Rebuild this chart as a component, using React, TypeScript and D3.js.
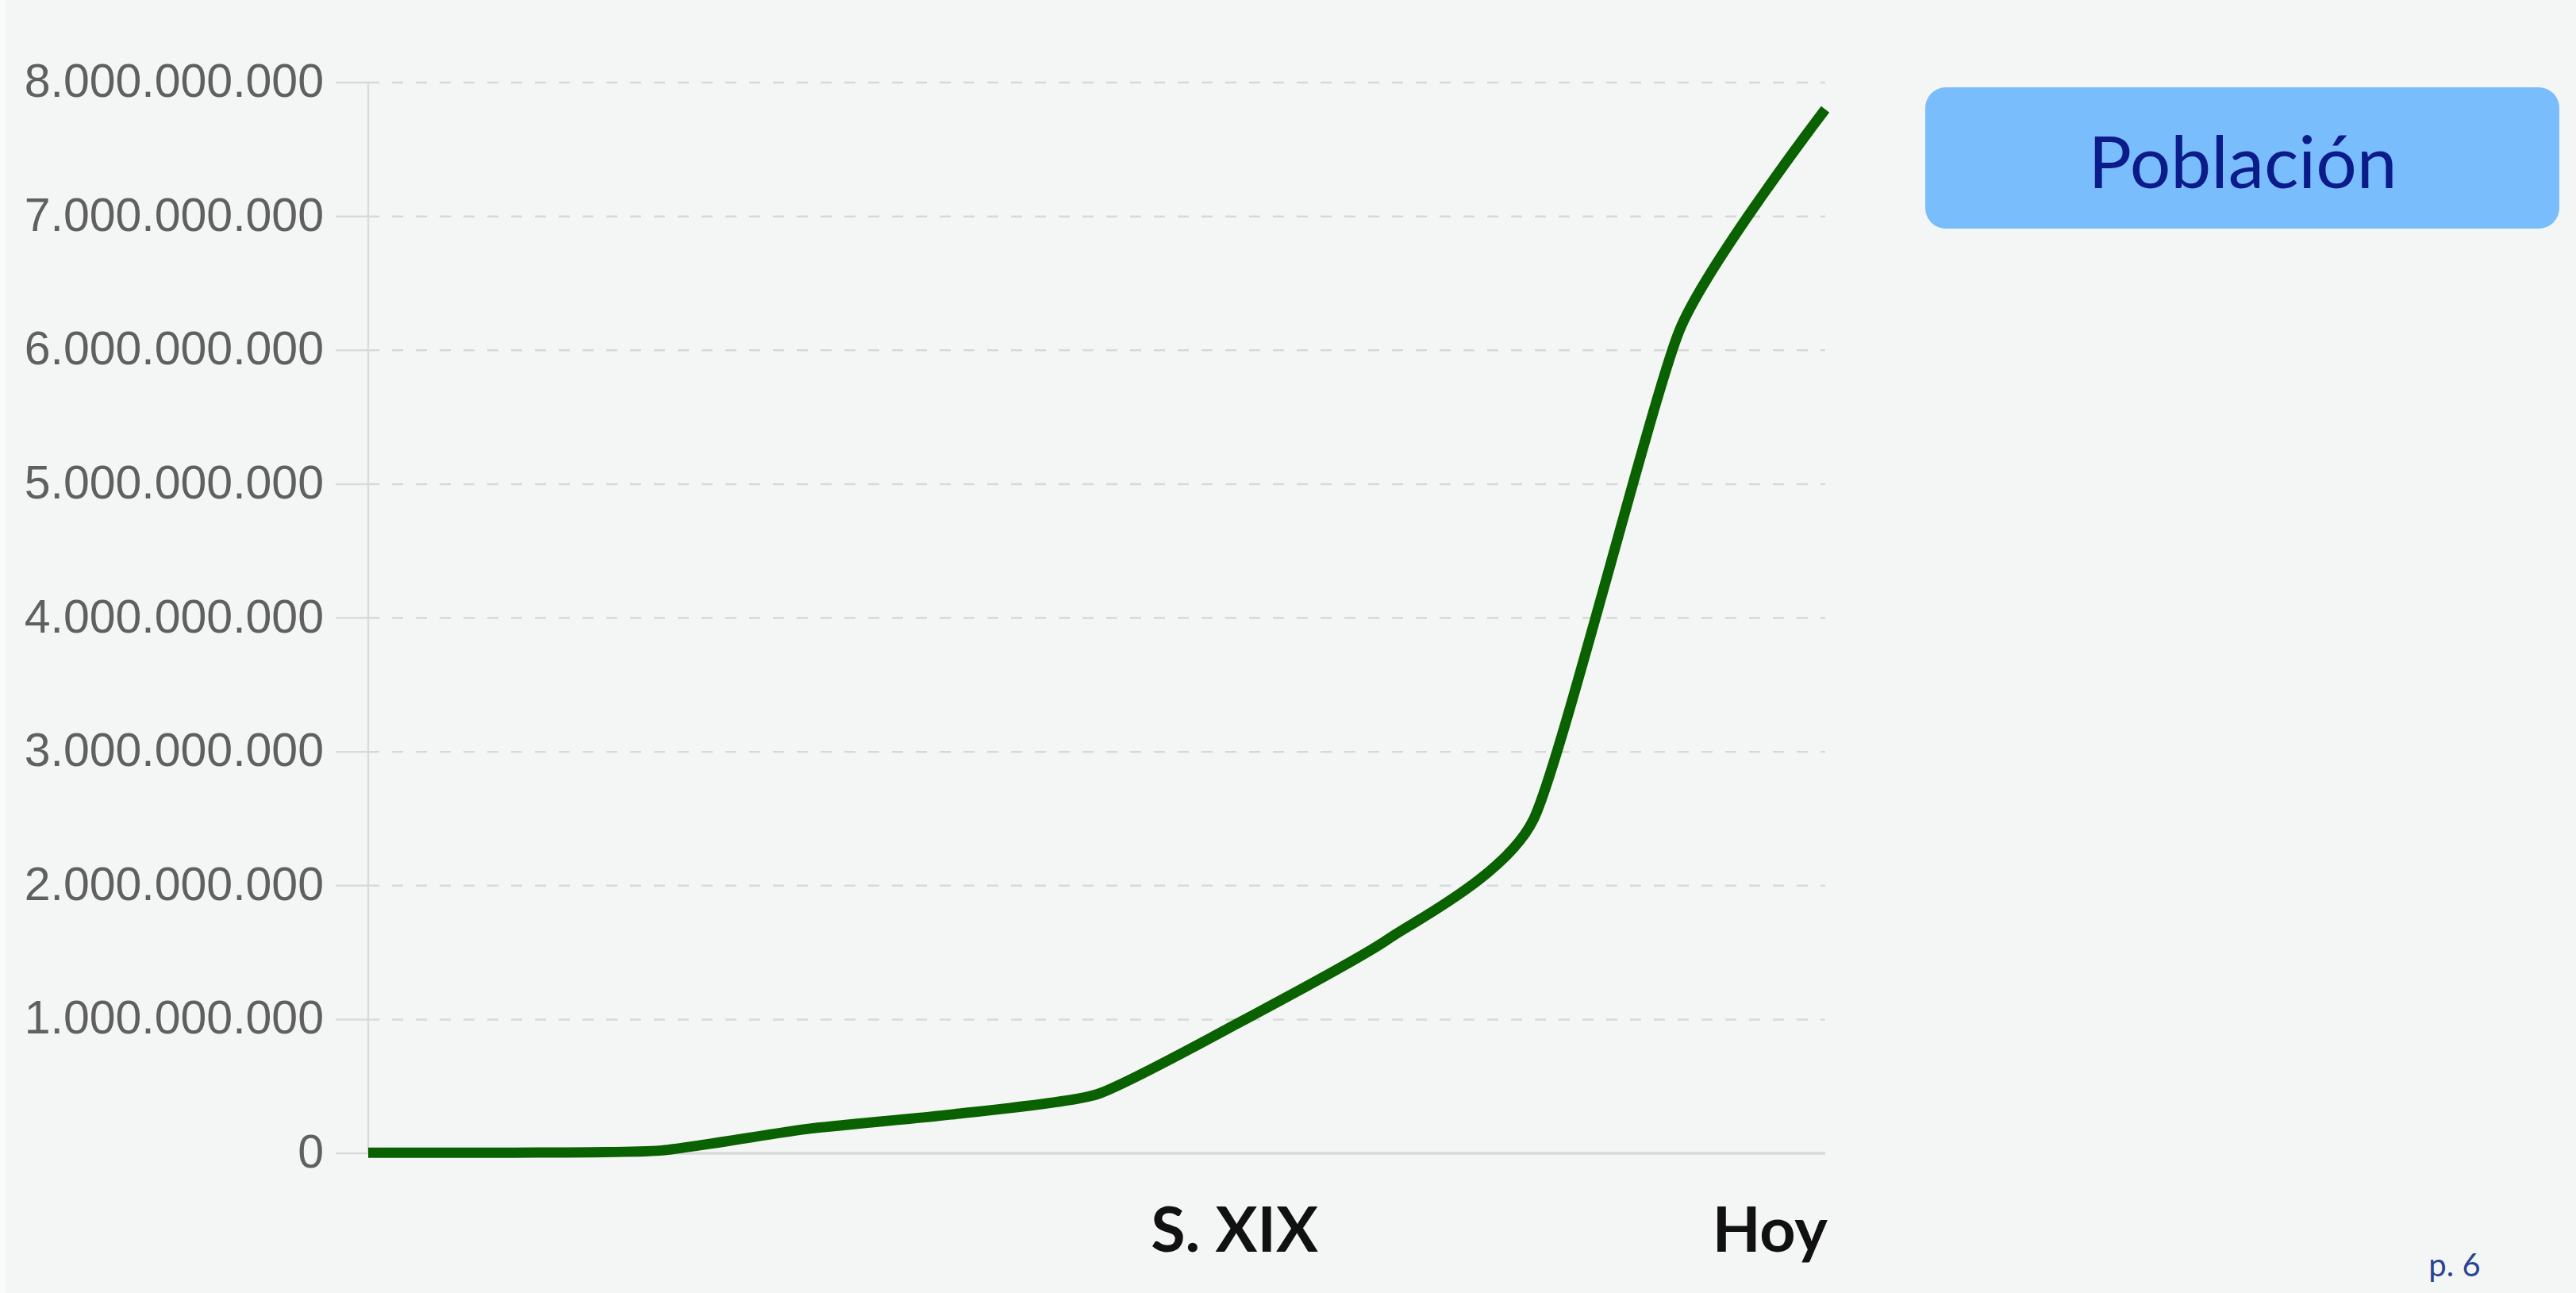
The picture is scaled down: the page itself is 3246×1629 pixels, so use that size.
import React from 'react';
import * as d3 from 'd3';

// población mundial (en habitantes), puntos equiespaciados
const steps = [0, 1, 2, 3, 4, 5, 6, 7, 8, 9, 10];
const population = [
    4000000, 5000000, 20000000, 180000000, 290000000, 440000000,
    990000000, 1600000000, 2500000000, 6150000000, 7800000000
];
const yTicks = [0, 1e9, 2e9, 3e9, 4e9, 5e9, 6e9, 7e9, 8e9];
const xLabels = [
    { step: 6, text: 'S. XIX', anchor: 'middle', dx: -10 },
    { step: 10, text: 'Hoy', anchor: 'end', dx: 3 }
];
const legendLabel = 'Población';
const pageLabel = 'p. 6';

const data = steps.map((s, i) => ({ step: s, value: population[i] }));

export default class App extends React.Component {
    node: any = null;

    componentDidMount() {
        this._setupD3();
    }

    componentDidUpdate() {
        this._setupD3();
    }

    render() {
        return (
            <div style={{ position: 'absolute', left: 0, top: 0 }} ref={el => { this.node = el; }} />
        );
    }

    _setupD3 = () => {
        const width = 3246, height = 1629,
            margin = { top: 104, right: 946, bottom: 176, left: 464 };

        const x = d3.scaleLinear()
            .domain([0, 10])
            .range([margin.left, width - margin.right]);

        const y = d3.scaleLinear()
            .domain([0, 8e9])
            .range([height - margin.bottom, margin.top]);

        // separador de miles con punto
        const fmt = d3.formatLocale({ decimal: ',', thousands: '.', grouping: [3], currency: ['', ''] }).format(',d');

        const line = d3.line<any>()
            .curve(d3.curveCardinal.tension(0.45))
            .x(d => x(d.step))
            .y(d => y(d.value));

        const root = d3.select(this.node);
        root.select('svg').remove();
        const svg = root.append('svg')
            .attr('width', width)
            .attr('height', height)
            .style('display', 'block');

        svg.append('rect')
            .attr('width', width)
            .attr('height', height)
            .attr('fill', '#f4f6f6');
        svg.append('rect')
            .attr('width', 7)
            .attr('height', height)
            .attr('fill', '#fbfbfb');

        // rejilla
        const grid = svg.append('g');
        grid.selectAll('line.grid')
            .data(yTicks.filter(t => t > 0))
            .join('line')
            .attr('class', 'grid')
            .attr('x1', margin.left)
            .attr('x2', width - margin.right)
            .attr('y1', d => y(d))
            .attr('y2', d => y(d))
            .attr('stroke', '#d8d8d8')
            .attr('stroke-width', 2.5)
            .attr('stroke-dasharray', '14,16');

        grid.selectAll('line.tick')
            .data(yTicks)
            .join('line')
            .attr('class', 'tick')
            .attr('x1', margin.left - 41)
            .attr('x2', margin.left)
            .attr('y1', d => y(d))
            .attr('y2', d => y(d))
            .attr('stroke', '#dadada')
            .attr('stroke-width', 2.5);

        // eje y
        svg.append('line')
            .attr('x1', margin.left).attr('x2', margin.left)
            .attr('y1', y(8e9)).attr('y2', y(0))
            .attr('stroke', '#dadada')
            .attr('stroke-width', 2.5);
        // eje x
        svg.append('line')
            .attr('x1', margin.left).attr('x2', width - margin.right)
            .attr('y1', y(0)).attr('y2', y(0))
            .attr('stroke', '#d8d8d8')
            .attr('stroke-width', 3.5);

        svg.append('g')
            .selectAll('text')
            .data(yTicks)
            .join('text')
            .attr('x', 408)
            .attr('y', d => y(d) - 2)
            .attr('text-anchor', 'end')
            .attr('dominant-baseline', 'central')
            .attr('font-family', '"Liberation Sans", Arial, sans-serif')
            .attr('font-size', 59)
            .attr('fill', '#606060')
            .text(d => fmt(d));

        svg.append('path')
            .datum(data)
            .attr('fill', 'none')
            .attr('stroke', '#0a6100')
            .attr('stroke-width', 13)
            .attr('stroke-linejoin', 'round')
            .attr('d', line);

        svg.append('g')
            .selectAll('text')
            .data(xLabels)
            .join('text')
            .attr('x', d => x(d.step) + d.dx)
            .attr('y', 1577)
            .attr('text-anchor', d => d.anchor)
            .attr('font-family', 'Lato, sans-serif')
            .attr('font-weight', 'bold')
            .attr('font-size', 79)
            .attr('fill', '#111')
            .text(d => d.text);

        // leyenda
        svg.append('rect')
            .attr('x', 2426).attr('y', 110)
            .attr('width', 799).attr('height', 178)
            .attr('rx', 26)
            .attr('fill', '#7abdfd');
        svg.append('text')
            .attr('x', 2826).attr('y', 201)
            .attr('text-anchor', 'middle')
            .attr('dominant-baseline', 'central')
            .attr('font-family', 'Lato, sans-serif')
            .attr('font-size', 91)
            .attr('fill', '#0c1b8a')
            .text(legendLabel);

        svg.append('text')
            .attr('x', 3093).attr('y', 1608)
            .attr('text-anchor', 'middle')
            .attr('font-family', 'Lato, sans-serif')
            .attr('font-size', 40)
            .attr('fill', '#2a4593')
            .text(pageLabel);
    }
}
